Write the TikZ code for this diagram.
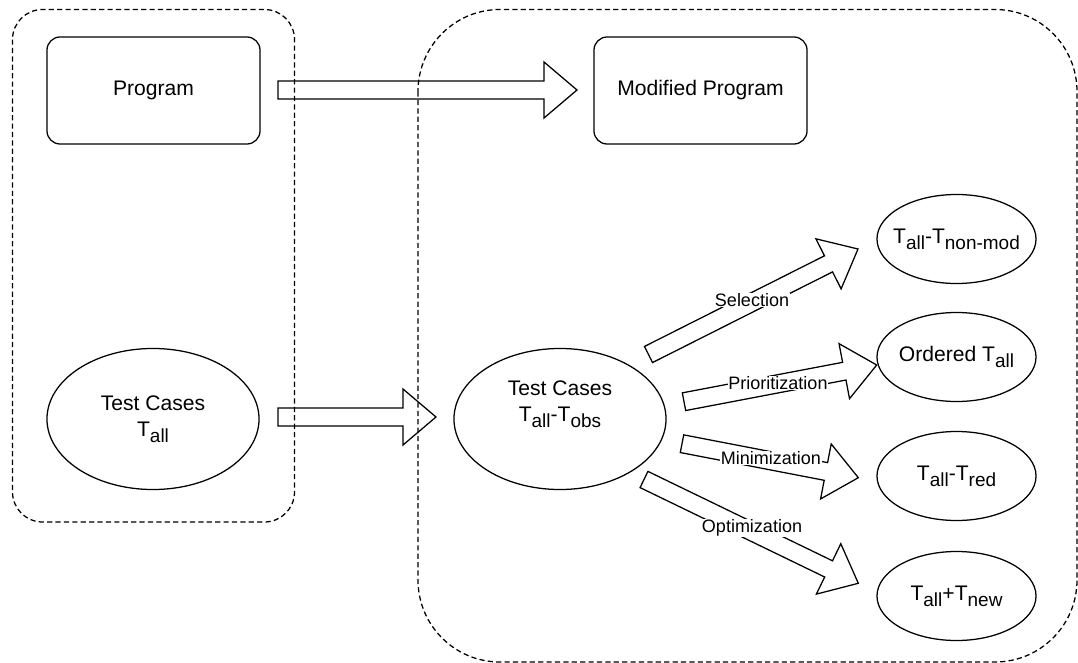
\documentclass[tikz,border=0pt]{standalone}
\usepackage{fontspec}
\setmainfont{Liberation Sans}
\usetikzlibrary{calc,shapes.geometric}
\newcommand\lowidx[1]{\raisebox{-0.28em}{\fontsize{13.5}{15}\selectfont #1}}
\newcommand\fatarrow[2]{%
\draw[fatarrow] ($(#1)!0.225cm!90:(#2)$)
  -- ($(#2)!0.825cm!(#1)!0.225cm!-90:(#1)$)
  -- ($(#2)!0.825cm!(#1)!0.7cm!-90:(#1)$)
  -- (#2)
  -- ($(#2)!0.825cm!(#1)!0.7cm!90:(#1)$)
  -- ($(#2)!0.825cm!(#1)!0.225cm!90:(#1)$)
  -- ($(#1)!0.225cm!-90:(#2)$) -- cycle;}
\begin{document}
\begin{tikzpicture}[x=0.025cm, y=-0.025cm, line width=0.9pt,
  grpbox/.style={line width=0.9pt, dash pattern=on 0.13cm off 0.08cm},
  progbox/.style={draw, rounded corners=0.33cm, minimum width=5.325cm, minimum height=2.675cm, font=\fontsize{15}{18}\selectfont},
  tsetnode/.style={draw, ellipse, inner sep=0pt, minimum width=5.3cm, minimum height=3.525cm, align=center, font=\fontsize{15}{18.4}\selectfont},
  tsettext/.style={align=center, inner sep=0pt, font=\fontsize{15}{18.4}\selectfont},
  resnode/.style={draw, ellipse, inner sep=0pt, minimum width=3.975cm, minimum height=2.225cm, font=\fontsize{15}{18}\selectfont},
  fatarrow/.style={draw, line width=0.9pt, line join=miter},
  lbl/.style={fill=white, inner sep=0.6pt, font=\fontsize{12.8}{15}\selectfont}]
\useasboundingbox (0,0) rectangle (1078,663);
\draw[grpbox, rounded corners=0.75cm] (12.5,9.5) rectangle (294.5,522);
\draw[grpbox, rounded corners=2.05cm] (418,9.5) rectangle (1077,662);
\node[progbox] (prog) at (153.5,90.5){Program};
\node[progbox] (modprog) at (700.5,90.5){Modified Program};
\node[tsetnode] (tall) at (153,419){Test Cases\\T\lowidx{all}};
\node[tsetnode] (tobs) at (560,419){};
\node[tsettext] (tobstxt) at (560,404){Test Cases\\T\lowidx{all}-T\lowidx{obs}};
\node[resnode] (res1) at (956.5,239){\makebox[0pt]{T\lowidx{all}-T\lowidx{non-mod}}};
\node[resnode] (res2) at (956.5,357){\makebox[0pt]{Ordered T\lowidx{all}}};
\node[resnode] (res3) at (956.5,476){\makebox[0pt]{T\lowidx{all}-T\lowidx{red}}};
\node[resnode] (res4) at (956.5,596){\makebox[0pt]{T\lowidx{all}+T\lowidx{new}}};
\coordinate (progout) at (278,90);
\coordinate (modin) at (577,90);
\coordinate (tallout) at (278,417);
\coordinate (tobsin) at (436,417);
\coordinate (sels) at (648.5,354.5);
\coordinate (sele) at (858,249);
\coordinate (pris) at (684,401.7);
\coordinate (prie) at (876.7,365);
\coordinate (mins) at (682,443.7);
\coordinate (mine) at (858.3,477.7);
\coordinate (opts) at (644,479.5);
\coordinate (opte) at (858.3,583.3);
\fatarrow{progout}{modin}
\fatarrow{tallout}{tobsin}
\fatarrow{sels}{sele}
\fatarrow{pris}{prie}
\fatarrow{mins}{mine}
\fatarrow{opts}{opte}
\node[lbl] (sellbl) at (752,300){Selection};
\node[lbl] (prilbl) at (778,383){Prioritization};
\node[lbl] (minlbl) at (771,458){Minimization};
\node[lbl] (optlbl) at (752,528){Optimization};
\end{tikzpicture}
\end{document}
